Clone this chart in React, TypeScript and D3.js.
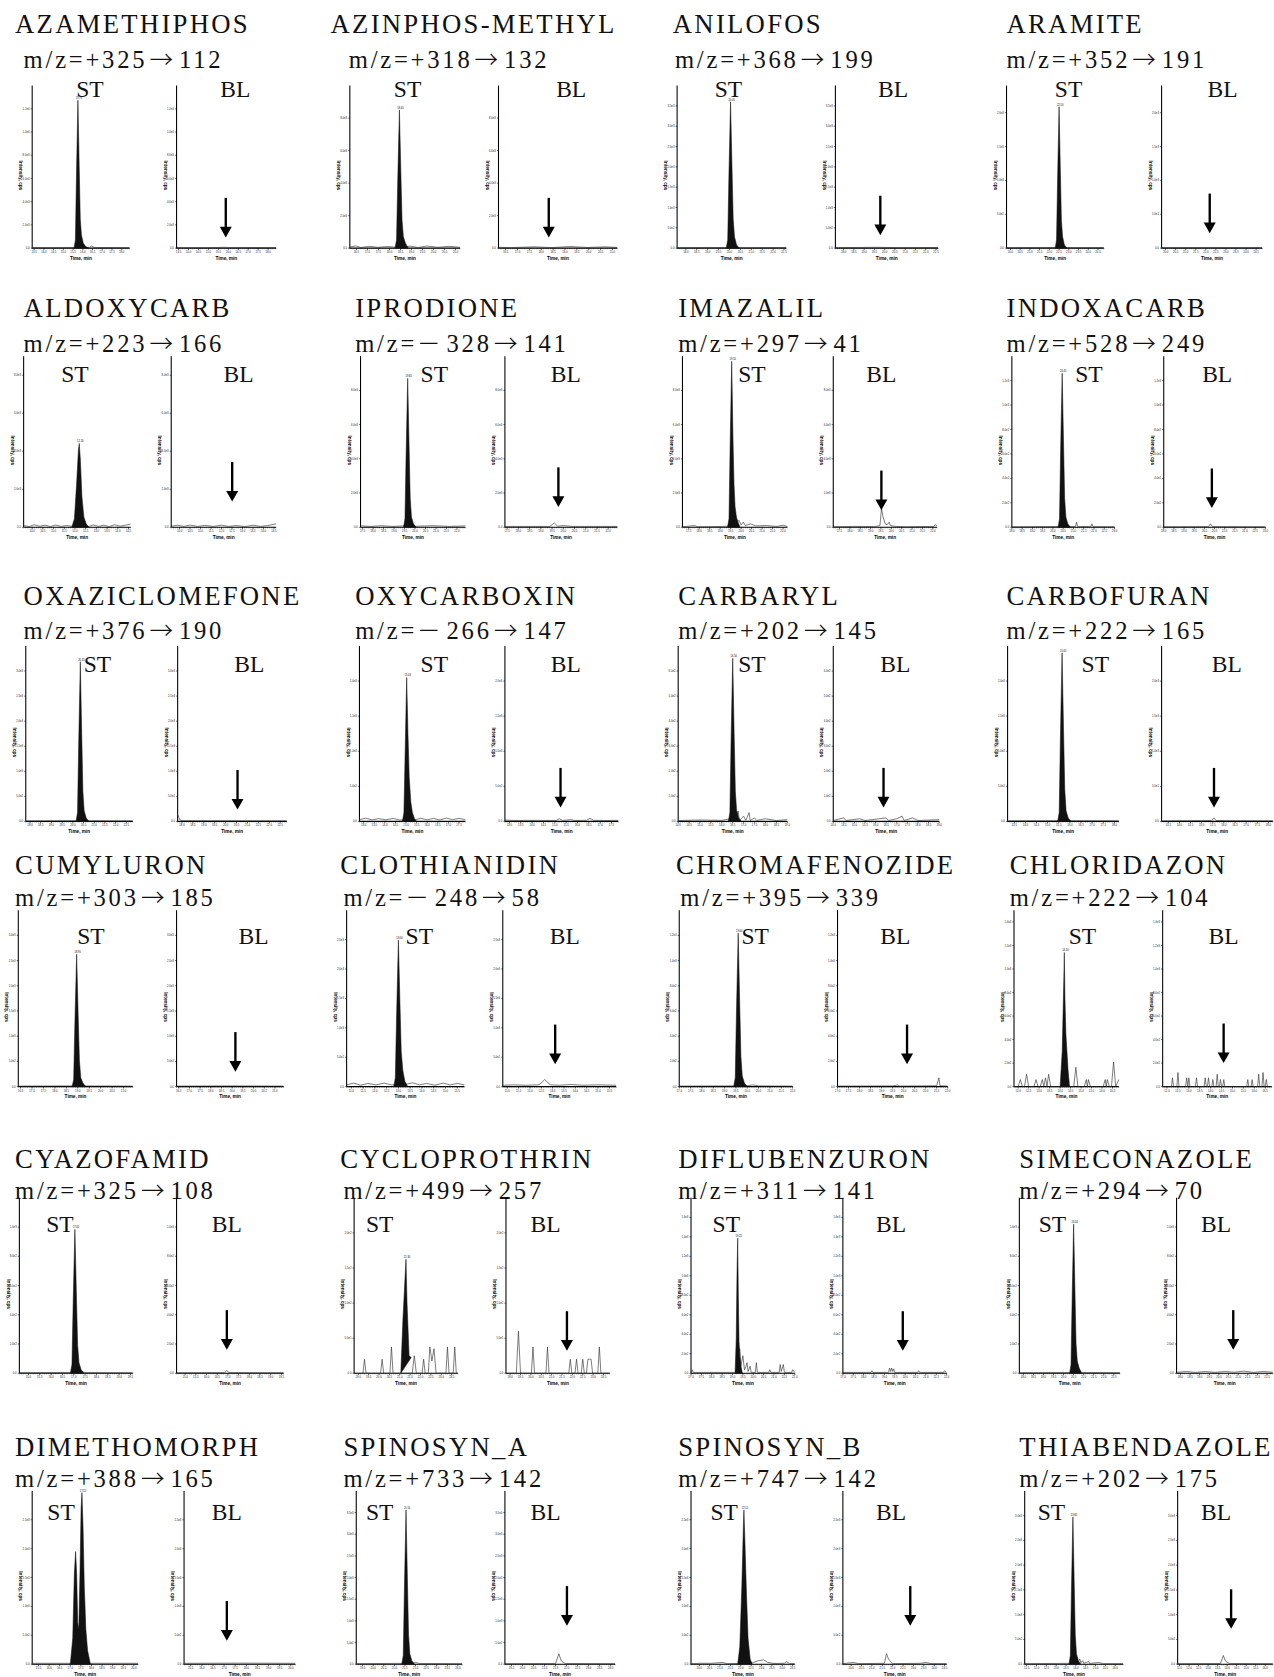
import React from "react";
import * as d3 from "d3";

// compound names and MRM transitions, row by row (4 per row)
const compounds = [
  "AZAMETHIPHOS", "AZINPHOS-METHYL", "ANILOFOS", "ARAMITE",
  "ALDOXYCARB", "IPRODIONE", "IMAZALIL", "INDOXACARB",
  "OXAZICLOMEFONE", "OXYCARBOXIN", "CARBARYL", "CARBOFURAN",
  "CUMYLURON", "CLOTHIANIDIN", "CHROMAFENOZIDE", "CHLORIDAZON",
  "CYAZOFAMID", "CYCLOPROTHRIN", "DIFLUBENZURON", "SIMECONAZOLE",
  "DIMETHOMORPH", "SPINOSYN_A", "SPINOSYN_B", "THIABENDAZOLE",
];

const transitions = [
  "m/z=+325→112", "m/z=+318→132", "m/z=+368→199", "m/z=+352→191",
  "m/z=+223→166", "m/z=－328→141", "m/z=+297→41", "m/z=+528→249",
  "m/z=+376→190", "m/z=－266→147", "m/z=+202→145", "m/z=+222→165",
  "m/z=+303→185", "m/z=－248→58", "m/z=+395→339", "m/z=+222→104",
  "m/z=+325→108", "m/z=+499→257", "m/z=+311→141", "m/z=+294→70",
  "m/z=+388→165", "m/z=+733→142", "m/z=+747→142", "m/z=+202→175",
];

// time window of each run (min) and intensity at top of axis (cps)
const timeRanges: [number, number][] = [
  [13.4, 18.4], [16.2, 21.2], [17.6, 22.6], [19.8, 24.8],
  [9.6, 14.6], [17.4, 22.4], [17.2, 22.2], [18.0, 23.0],
  [17.8, 22.8], [12.8, 17.8], [14.0, 19.0], [13.2, 18.2],
  [16.4, 21.4], [10.8, 15.8], [17.0, 22.0], [11.8, 16.8],
  [14.6, 19.6], [18.8, 23.8], [17.0, 22.0], [17.8, 22.8],
  [15.2, 20.2], [19.2, 24.2], [19.6, 24.6], [11.4, 16.4],
];
const intensityTop = [
  14000, 10000, 4000, 2400, 9000, 10000, 10000, 1400,
  3500, 2500, 700, 2500, 3500, 3000, 1400, 1500,
  1200, 250, 1800, 1200, 3000, 4000, 3000, 3500,
];
const apexLabels = [
  "15.75", "18.45", "20.05", "22.50", "12.20", "19.65", "19.55", "20.45",
  "20.35", "15.03", "16.50", "15.65", "18.95", "13.00", "19.60", "14.20",
  "17.05", "21.30", "19.25", "20.50", "17.55", "21.55", "22.15", "13.85",
];

// traces: [time % of window, intensity % of axis]
type Pt = [number, number];
const stPeaks: Pt[][] = [
  [[43,0],[44.4,5],[45.5,45],[47,91],[48.3,50],[49.4,18],[50.6,8],[52.5,3],[55,1],[58,0]],
  [[41,0],[42.4,5],[43.5,42],[45,85],[46.3,47],[47.4,17],[48.6,7],[50.5,3],[53,0]],
  [[45,0],[46.4,5],[47.5,45],[49,90],[50.3,50],[51.4,18],[52.6,7],[54.5,2],[57,0]],
  [[50,0],[51.4,5],[52.5,43],[54,87],[55.3,48],[56.4,17],[57.6,7],[59.5,2],[62,0]],
  [[45,0],[47.5,5],[49.5,25],[51.2,45],[52,49],[53,40],[54.5,18],[56.3,6],[58.5,2],[61,0]],
  [[41,0],[42.4,5],[43.5,43],[45,87],[46.3,48],[47.4,17],[48.6,6],[50.5,2],[53,0]],
  [[43,0],[44.4,5],[45.5,48],[47,97],[48.2,52],[49.2,25],[50.2,12],[51.5,6],[53,3],[55,0]],
  [[45,0],[46.4,5],[47.5,45],[49,90],[50.3,50],[51.4,17],[52.6,6],[54.5,2],[57,0]],
  [[47,0],[48.4,5],[49.5,45],[51,91],[52.3,50],[53.4,17],[54.6,6],[56.5,2],[59,0]],
  [[40.5,0],[42,5],[43.2,41],[44.6,82],[45.8,50],[47,25],[48.5,11],[50,5],[52,1.5],[54,0]],
  [[46,0],[47.4,5],[48.5,46],[50,93],[51.3,50],[52.4,17],[53.6,6],[55.5,2],[58,0]],
  [[45,0],[46.4,5],[47.5,48],[49,96],[50.3,52],[51.4,18],[52.6,6],[54.5,2],[57,0]],
  [[47,0],[48.4,4],[49.5,37],[51,75],[52.3,41],[53.4,15],[54.6,5],[56.5,2],[59,0]],
  [[40,0],[41.4,5],[42.5,41],[44,83],[45.3,48],[46.4,20],[47.8,9],[49.5,3],[52,0]],
  [[48,0],[49.4,5],[50.5,43],[52,87],[53.3,48],[54.4,17],[55.6,6],[57.5,2],[60,0]],
  [[44,0],[46,20],[47.5,60],[48,76],[48.6,50],[49.5,30],[50.5,20],[51.5,10],[53,0]],
  [[45,0],[46.4,5],[47.5,41],[49,82],[50.3,45],[51.4,16],[52.6,6],[54.5,2],[57,0]],
  [[45,0],[47,30],[50,65],[51,40],[53,10],[55,9]],
  [[42.5,0],[43.6,20],[44.3,55],[45,77],[45.6,45],[46.3,18],[47.2,9],[48.2,4],[49.5,0]],
  [[50,0],[51.4,5],[52.5,42],[54,85],[55.3,47],[56.4,17],[57.6,7],[59.5,3],[62,0]],
  [[36,0],[38.3,15],[39.8,52],[41,65],[42,52],[43,24],[44,20],[45.2,55],[46.2,90],[47,99],[48,80],[49.2,45],[50.7,20],[52.3,8],[55,0]],
  [[43,0],[44.4,5],[45.5,44],[47,89],[48.3,49],[49.4,17],[50.6,6],[52.5,2],[55,0]],
  [[45,0],[47,10],[49,45],[50.5,80],[51,89],[52,70],[53.5,40],[55,15],[57,3],[59,0]],
  [[45,0],[46.4,5],[47.5,42],[49,85],[50.3,47],[51.4,17],[52.6,6],[54.5,2],[57,0]],
];

const stBaselines: Pt[][] = [
  [[0,0.3],[20,0.3],[40,0.4],[59,0.5],[61,1.2],[64,0.4],[100,0.3]],
  [[0,0.6],[5,1.4],[10,0.4],[18,1.1],[25,0.5],[35,1],[42,0.5],[55,1.2],[62,0.4],[70,1.3],[80,0.5],[90,1.1],[100,0.5]],
  [[0,0.3],[30,0.4],[60,0.3],[100,0.4]],
  [[0,0.3],[35,0.4],[70,0.3],[100,0.3]],
  [[0,1],[5,0.4],[10,1.5],[15,0.6],[20,1.2],[25,0.4],[30,1.3],[35,0.5],[40,1],[46,0.5],[61,0.5],[65,1.4],[70,0.5],[75,1.2],[80,0.4],[85,1.5],[90,0.6],[95,1.2],[100,1.8]],
  [[0,0.8],[10,0.5],[20,0.9],[30,0.5],[42,0.8],[52,0.6],[70,0.9],[85,0.5],[100,0.8]],
  [[0,0.3],[12,1],[14,0.3],[30,0.4],[44,0.6],[50,6],[52,3],[54,4],[56,1.5],[58,3],[60,1],[65,2],[70,0.8],[80,1],[90,0.5],[96,1.2],[100,0.5]],
  [[0,0.3],[55,0.5],[62,0.4],[63,3],[64,0.4],[77,0.5],[78,2],[79,0.4],[100,0.3]],
  [[0,0.3],[50,0.4],[100,0.3]],
  [[0,1],[6,1.8],[12,0.8],[18,1.6],[25,0.9],[32,1.7],[38,0.8],[53,1],[58,1.8],[64,0.9],[70,1.7],[76,0.8],[82,1.9],[88,1],[94,1.7],[100,1]],
  [[0,0.5],[20,0.8],[40,0.6],[53,2],[55,6],[56,0.5],[60,3],[62,0.5],[65,5],[66,0.5],[70,2],[72,0.5],[80,1.5],[90,0.5],[100,1]],
  [[0,0.3],[50,0.4],[100,0.3]],
  [[0,0.3],[50,0.4],[100,0.3]],
  [[0,1],[6,2],[12,0.8],[18,1.8],[25,1],[32,2],[38,1],[50,1.2],[56,2.2],[62,1],[68,1.8],[75,0.8],[82,2],[88,1],[94,1.8],[100,1]],
  [[0,0.3],[40,0.4],[60,0.5],[65,1],[70,0.4],[100,0.3]],
  [[0,0],[4,0],[6,4],[8,0],[10,0],[12,7],[14,0],[19,0],[21,4],[23,0],[25,0],[27,4],[28.5,0],[30,5],[31.5,0],[33,7],[35,0],[53,0],[57,0],[59,11],[61,0],[67,0],[69,4],[70,0],[71,4],[73,0],[85,0],[87,4],[88,0],[89,4],[91,0],[93,0],[95,14],[97,0],[100,4]],
  [[0,0.3],[50,0.5],[55,1],[58,0.4],[100,0.3]],
  [[0,0],[8.5,0],[10,8],[11.5,0],[25.5,0],[27,8],[28.5,0],[34.5,0],[36,15],[37.5,0],[45,0],[56,0],[58,10],[60,0],[65.5,0],[67,8],[68.5,0],[71.5,0],[73,15],[75,7],[77,14],[79,0],[88.5,0],[90,15],[91.5,0],[95.5,0],[97,15],[98.5,0],[100,0]],
  [[0,0.5],[1,2],[2,0.5],[43,0.5],[47,14],[48,4],[50,10],[51.5,2],[53,4],[54,6],[55,1],[57,4],[58,0.5],[62,0.5],[63,6],[64,0.5],[75,0.5],[76,2],[77,0.5],[85,0.5],[86,5],[87,1],[89,5],[90,0.5],[97,0.5],[98,2],[100,0.5]],
  [[0,0.3],[55,0.5],[57,2],[59,1.5],[61,0.5],[100,0.3]],
  [[0,0.5],[40,0.5],[60,0.5],[100,0.5]],
  [[0,0.3],[53,0.5],[56,1],[60,0.4],[100,0.3]],
  [[0,0.3],[8,0.5],[20,0.5],[30,1],[35,0.3],[45,0.4],[59,0.8],[65,2],[70,2.5],[74,1],[80,0.4],[90,0.5],[92,1.5],[95,0.3],[100,0.3]],
  [[0,0.3],[50,0.5],[51,5],[52,1],[53,4],[54,1],[56,3],[57,0.8],[59,2],[60,0.5],[65,1.5],[66,0.4],[75,1],[80,0.3],[100,0.3]],
];

const blTraces: Pt[][] = [
  [[0,0.3],[30,0.3],[50,0.5],[52,0.3],[70,0.4],[100,0.3]],
  [[0,0.5],[10,0.3],[30,0.8],[45,0.3],[60,1],[75,0.4],[90,0.8],[100,0.4]],
  [[0,0.3],[40,0.5],[60,0.3],[100,0.4]],
  [[0,0.3],[50,0.4],[100,0.3]],
  [[0,0.6],[6,1.2],[12,0.5],[18,1.3],[25,0.5],[32,1.1],[40,0.5],[48,1.2],[55,0.5],[62,1],[70,0.4],[78,1.2],[85,0.5],[92,1],[100,2]],
  [[0,0.5],[40,0.5],[44,2.5],[47,0.6],[52,1],[60,0.5],[100,0.5]],
  [[0,0.3],[20,0.5],[40,0.4],[45,1],[46.5,11],[48,6],[50,2],[52,1.5],[54,3],[55,1],[60,0.5],[70,0.3],[97,0.5],[98,1.5],[100,1]],
  [[0,0.3],[44,0.4],[46,2],[48,0.4],[100,0.3]],
  [[0,4],[2,1],[4,0.4],[100,0.3]],
  [[0,0.8],[8,0.5],[20,0.6],[45,0.5],[48,1.5],[51,0.5],[58,1],[62,0.5],[72,0.6],[75,1.8],[78,0.6],[90,0.5],[100,0.6]],
  [[0,0.5],[10,2],[12,0.5],[25,1.5],[30,0.5],[50,2],[52,0.5],[60,1.5],[65,3],[67,0.5],[75,2],[80,0.5],[100,1]],
  [[0,0.3],[45,0.5],[47,2],[49,0.5],[100,0.3]],
  [[0,0.3],[50,0.4],[100,0.3]],
  [[0,0.8],[10,1],[20,0.8],[32,1],[37,4],[42,1],[50,0.8],[60,1.2],[70,0.8],[85,1],[100,0.8]],
  [[0,0.3],[50,0.4],[55,1],[56,0.3],[90,0.5],[92,5],[93,0.5],[100,0.3]],
  [[0,0],[8,0],[9,5],[10,0],[13,0],[14,8],[15,0],[21,0],[22,5],[23,0],[24,5],[25,0],[30,0],[31,5],[32,0],[38,0],[39,5],[40,0],[41,0],[42,5],[43,0],[45,0],[46,4],[47,0],[49,0],[50,7],[51,0],[52,0],[53,4],[54,0],[55,0],[56,4],[57,0],[77,0],[78,4],[79,0],[81,0],[82,4],[83,0],[87,0],[88,7],[89,0],[91,0],[92,8],[93,0],[94,0],[95,4],[96,0],[100,0]],
  [[0,0.3],[45,0.4],[47,1.5],[49,0.4],[100,0.3]],
  [[0,0],[10,0],[12,24],[14,0],[24.5,0],[26,15],[27.5,0],[38.5,0],[40,15],[41.5,0],[60.5,0],[62,8],[63.5,0],[66.5,0],[68,8],[69.5,0],[72.5,0],[74,8],[75.5,0],[77.5,0],[79,8],[80.5,8],[82,8],[83.5,0],[88.5,0],[90,15],[91.5,0],[100,0]],
  [[0,0.5],[27,0.5],[28,1.5],[29,0.5],[44,0.5],[45,3],[46,1],[47,3],[48,1],[49,2.5],[50,0.5],[72,0.5],[73,1.5],[74,0.5],[97,0.5],[98,1.5],[100,0.5]],
  [[0,0.5],[10,1],[20,0.5],[30,1],[40,0.5],[50,1],[60,0.6],[70,1.2],[80,0.5],[90,1],[100,0.6]],
  [[0,0.5],[50,0.6],[100,0.5]],
  [[0,0.3],[46,0.4],[49,6],[51,2],[53,1],[55,0.4],[100,0.3]],
  [[0,0.3],[10,1],[15,0.3],[40,0.5],[42,6],[44,3],[46,1.5],[48,0.3],[75,0.5],[80,1],[85,0.3],[100,0.3]],
  [[0,0.3],[45,0.4],[48,5],[50,2],[52,1],[55,0.4],[100,0.3]],
];

// ---- layout (in the 1191 x 1568 drawing frame) ----
const rowTitleY = [31, 296, 566, 817, 1092, 1361];
const rowMzY = [64, 329, 597, 847, 1121, 1390];
const rowTop = [80, 333, 604, 851, 1120, 1394];
const rowBottom = [232, 493, 768, 1016, 1284, 1556];
const rowLabelY = [91, 357, 628, 883, 1152, 1421];

const titleX = [14, 309, 629, 941, 22, 332, 634, 941, 22, 332, 634, 941, 14, 318, 632, 944, 14, 318, 634, 953, 14, 321, 634, 953];
const mzX = [22, 326, 631, 941, 22, 332, 634, 941, 22, 332, 634, 941, 14, 321, 636, 944, 14, 321, 634, 953, 14, 321, 634, 953];
const stLeft = [30, 327, 633, 941, 22, 337, 638, 946, 24, 336, 634, 942, 17, 324, 635, 948, 18, 331, 646, 953, 30, 333, 646, 958];
const stRight = [121, 430, 735, 1032, 122, 435, 736, 1042, 124, 435, 736, 1046, 124, 434, 741, 1046, 124, 428, 743, 1047, 129, 432, 743, 1050];
const blLeft = [165, 466, 781, 1086, 160, 472, 779, 1088, 166, 472, 779, 1086, 165, 470, 783, 1087, 165, 473, 788, 1100, 172, 472, 788, 1101];
const blRight = [258, 577, 877, 1180, 258, 577, 876, 1183, 268, 578, 878, 1190, 265, 576, 886, 1189, 265, 570, 885, 1190, 276, 575, 885, 1190];
const stLabelX = [84, 381, 681, 999, 70, 406, 703, 1018, 91, 406, 703, 1024, 85, 392, 706, 1012, 56, 355, 679, 984, 57, 355, 677, 983];
const blLabelX = [220, 534, 835, 1143, 223, 529, 824, 1138, 233, 529, 837, 1147, 237, 528, 837, 1144, 212, 510, 833, 1137, 212, 510, 833, 1137];
const arrowX = [211, 513, 823, 1131, 217, 522, 824, 1133, 222, 524, 826, 1135, 220, 519, 848, 1144, 212, 530, 844, 1153, 212, 530, 851, 1151];
const arrowLift = [10, 10, 12, 14, 24, 19, 16, 18, 11, 13, 13, 13, 14, 21, 21, 22, 22, 21, 21, 22, 22, 36, 36, 33];

const serif = '"Liberation Serif", "Times New Roman", "Noto Sans CJK JP", serif';
const cjk = '"Noto Sans CJK JP", sans-serif';
const sans = '"Liberation Sans", Arial, sans-serif';

type ChromProps = {
  left: number; right: number; top: number; bottom: number;
  fillPts?: Pt[]; linePts: Pt[]; times: [number, number]; yMax: number; apex?: string;
};

const fmtY = (t: number) => (t === 0 ? "0.0" : d3.format(".1e")(t).replace("+", ""));

function Chromatogram({ left, right, top, bottom, fillPts, linePts, times, yMax, apex }: ChromProps) {
  const x = d3.scaleLinear().domain([0, 100]).range([left, right]);
  const y = d3.scaleLinear().domain([0, 100]).range([bottom, top]);
  const xt = d3.scaleLinear().domain(times).range([left, right]);
  const yc = d3.scaleLinear().domain([0, yMax]).range([bottom, top]);
  const line = d3.line<Pt>().x((d) => x(d[0])).y((d) => y(d[1]));
  const major = xt.ticks(10);
  const minor = xt.ticks(50);
  const yTicks = yc.ticks(6).filter((t) => yc(t) > top + 3);
  const apexPt = fillPts ? fillPts.reduce((a, b) => (b[1] > a[1] ? b : a)) : null;
  const fmtT = d3.format(".1f");
  return (
    <g>
      <line x1={left} x2={left} y1={top} y2={bottom} stroke="#000" strokeWidth={1} />
      <line x1={left} x2={right} y1={bottom} y2={bottom} stroke="#000" strokeWidth={1} />
      {yTicks.map((t) => (
        <g key={"y" + t}>
          <line x1={left - 1.5} x2={left} y1={yc(t)} y2={yc(t)} stroke="#000" strokeWidth={0.5} />
          <text x={left - 2.5} y={yc(t) + 1} fontSize={2.6} fontFamily={sans} textAnchor="end" fill="#222">
            {fmtY(t)}
          </text>
        </g>
      ))}
      {minor.map((t) => (
        <line key={"m" + t} x1={xt(t)} x2={xt(t)} y1={bottom} y2={bottom + 1} stroke="#000" strokeWidth={0.4} />
      ))}
      {major.map((t) => (
        <g key={"x" + t}>
          <line x1={xt(t)} x2={xt(t)} y1={bottom} y2={bottom + 1.8} stroke="#000" strokeWidth={0.5} />
          <text x={xt(t)} y={bottom + 4.6} fontSize={2.6} fontFamily={sans} textAnchor="middle" fill="#222">
            {fmtT(t)}
          </text>
        </g>
      ))}
      <text
        transform={`translate(${left - 12},${(top + bottom) / 2 + 8}) rotate(90)`}
        fontSize={4.4}
        fontWeight="bold"
        fontFamily={sans}
        textAnchor="middle"
      >
        Intensity, cps
      </text>
      <text x={(left + right) / 2} y={bottom + 11} fontSize={4.4} fontWeight="bold" fontFamily={sans} textAnchor="middle">
        Time, min
      </text>
      <path d={line(linePts) || ""} fill="none" stroke="#333" strokeWidth={0.6} />
      {fillPts && (
        <path d={(line(fillPts) || "") + "Z"} fill="#111" stroke="#111" strokeWidth={0.5} strokeLinejoin="round" />
      )}
      {apexPt && apex && (
        <text x={x(apexPt[0]) + 1} y={y(apexPt[1]) - 1} fontSize={2.4} fontFamily={sans} textAnchor="middle">
          {apex}
        </text>
      )}
    </g>
  );
}

function Transition({ x, y, label }: { x: number; y: number; label: string }) {
  const parts = label.split(/(→|－)/).filter((p) => p !== "");
  return (
    <text x={x} y={y} fontSize={23} fontFamily={serif} letterSpacing={2.6} fill="#111">
      {parts.map((p, k) =>
        p === "→" || p === "－" ? (
          <tspan key={k} fontFamily={cjk} fontWeight={300} dx={p === "→" ? 2 : 0} fontSize={22}>
            {p}
          </tspan>
        ) : (
          <tspan key={k} dx={k > 0 ? 3 : 0}>{p}</tspan>
        )
      )}
    </text>
  );
}

function Arrow({ x, tip }: { x: number; tip: number }) {
  return (
    <g>
      <line x1={x} x2={x} y1={tip - 37} y2={tip - 8} stroke="#000" strokeWidth={2.2} />
      <path d={`M${x - 5.6},${tip - 10}L${x + 5.6},${tip - 10}L${x},${tip}Z`} fill="#000" />
    </g>
  );
}

export default function App() {
  return (
    <svg
      width={1274}
      height={1677}
      viewBox="0 0 1191 1568"
      style={{ position: "absolute", left: 0, top: 0, background: "#fff" }}
    >
      <rect width={1191} height={1568} fill="#fff" />
      {compounds.map((name, i) => {
        const r = Math.floor(i / 4);
        const top = rowTop[r];
        const bottom = rowBottom[r];
        return (
          <g key={name}>
            <text x={titleX[i]} y={rowTitleY[r]} fontSize={25} fontFamily={serif} letterSpacing={2.1} fill="#111">
              {name}
            </text>
            <Transition x={mzX[i]} y={rowMzY[r]} label={transitions[i]} />
            <Chromatogram
              left={stLeft[i]}
              right={stRight[i]}
              top={top}
              bottom={bottom}
              fillPts={stPeaks[i]}
              linePts={stBaselines[i]}
              times={timeRanges[i]}
              yMax={intensityTop[i]}
              apex={apexLabels[i]}
            />
            <Chromatogram
              left={blLeft[i]}
              right={blRight[i]}
              top={top}
              bottom={bottom}
              linePts={blTraces[i]}
              times={timeRanges[i]}
              yMax={intensityTop[i]}
            />
            <text x={stLabelX[i]} y={rowLabelY[r]} fontSize={22} fontFamily={serif} textAnchor="middle" fill="#111">
              ST
            </text>
            <text x={blLabelX[i]} y={rowLabelY[r]} fontSize={22} fontFamily={serif} textAnchor="middle" fill="#111">
              BL
            </text>
            <Arrow x={arrowX[i]} tip={bottom - arrowLift[i]} />
          </g>
        );
      })}
    </svg>
  );
}
